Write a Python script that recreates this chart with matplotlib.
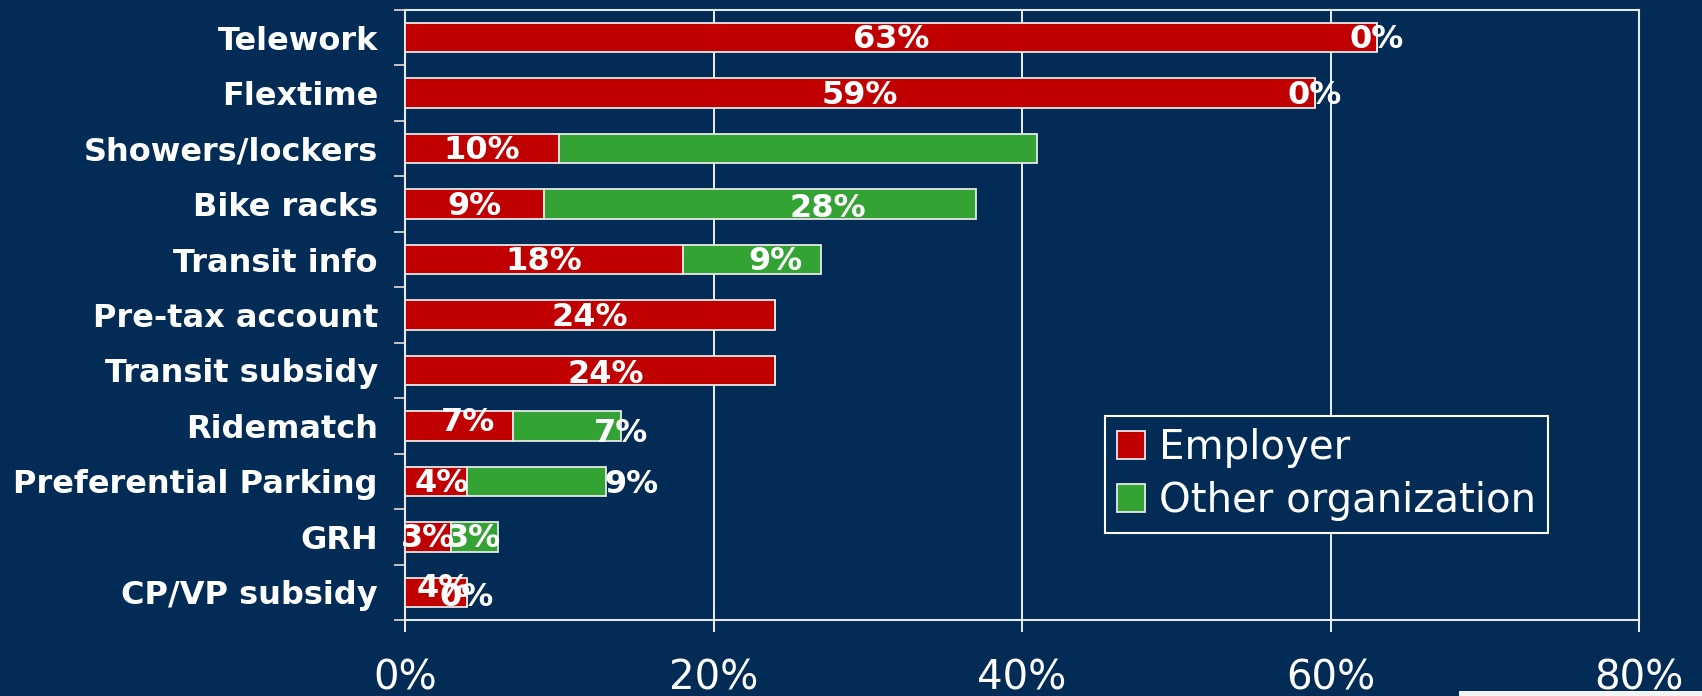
import numpy as np
import matplotlib
matplotlib.use("Agg")
import matplotlib.pyplot as plt
from matplotlib.patches import Rectangle

# Programy wspierane przez pracodawce / inna organizacje (w %)
kategorie = ['Telework', 'Flextime', 'Showers/lockers', 'Bike racks', 'Transit info',
             'Pre-tax account', 'Transit subsidy', 'Ridematch', 'Preferential Parking',
             'GRH', 'CP/VP subsidy']
employer = [63, 59, 10, 9, 18, 24, 24, 7, 4, 3, 4]
other = [0, 0, 31, 28, 9, 0, 0, 7, 9, 3, 0]
# ktore etykiety drugiej serii sa wyswietlane
other_labeled = [True, True, False, True, True, False, False, True, True, True, True]
xticks = [0, 20, 40, 60, 80]

tlo = '#022c56'
czerwony = '#c00000'
zielony = '#33a333'
bialy = 'white'

# przesuniecia etykiet (dx w % osi, dy w px w dol)
przesuniecia = {
    (3, 1): (4.4, 4), (4, 1): (1.5, 2), (6, 0): (1.0, 4),
    (7, 0): (0.6, -3), (7, 1): (3.5, 8), (8, 0): (0.4, 2), (8, 1): (6.2, 3),
    (10, 0): (0.5, -4), (10, 1): (0.0, 5),
}

W, H = 1702, 696
fig = plt.figure(figsize=(W / 100, H / 100), dpi=100, facecolor=tlo)
ax = fig.add_axes([405 / W, 1 - 620 / H, (1639 - 405) / W, (620 - 10) / H])
ax.set_facecolor(tlo)

y = np.arange(len(kategorie))
b1 = ax.barh(y, employer, height=0.53, color=czerwony, edgecolor='#e8e8e8',
             linewidth=1.3, label='Employer', zorder=3)
b2 = ax.barh(y, other, left=employer, height=0.53, color=zielony, edgecolor='#e8e8e8',
             linewidth=1.3, label='Other organization', zorder=3)

ax.set_xlim(0, 80)
ax.set_ylim(len(kategorie) - 0.5, -0.5)

# etykiety wartosci
for i in range(len(kategorie)):
    segmenty = [(employer[i], 0, True), (other[i], employer[i], other_labeled[i])]
    for s, (val, start, pokaz) in enumerate(segmenty):
        if not pokaz:
            continue
        dx, dy = przesuniecia.get((i, s), (0.0, 2))
        ax.annotate(f'{val}%', xy=(start + val / 2 + dx, i), xytext=(0, -dy),
                    textcoords='offset pixels', ha='center', va='center',
                    color=bialy, fontsize=23, fontweight='bold',
                    family='DejaVu Sans', zorder=5)

# osie
ax.set_xticks(xticks)
ax.set_xticklabels([f'{t}%' for t in xticks], fontsize=29, color=bialy, family='DejaVu Sans')
ax.tick_params(axis='x', direction='out', length=8.6, width=1.3, color=bialy, pad=19)
ax.set_yticks(y)
ax.set_yticklabels(kategorie, fontsize=23, fontweight='bold', color=bialy, family='DejaVu Sans')
ax.tick_params(axis='y', which='major', length=0, pad=19.5)
ax.set_yticks(np.arange(-0.5, len(kategorie)), minor=True)
ax.tick_params(axis='y', which='minor', length=8, width=1.3, color='#d0d0d0', direction='out')

ax.grid(axis='x', color=bialy, linewidth=1.3, zorder=1)
ax.set_axisbelow(True)
for sp in ax.spines.values():
    sp.set_color('#e8e8e8')
    sp.set_linewidth(1.5)

leg = ax.legend(handles=[b1, b2], loc='upper left',
                bbox_to_anchor=(1105 / W, 1 - 416 / H), bbox_transform=fig.transFigure,
                borderaxespad=0, fontsize=29, fancybox=False, framealpha=1,
                facecolor=tlo, edgecolor=bialy, handlelength=0.7, handleheight=0.7,
                handletextpad=0.33, labelspacing=0.32, borderpad=0.3)
leg.get_frame().set_linewidth(1.5)
for t in leg.get_texts():
    t.set_color(bialy)

# bialy pasek w prawym dolnym rogu
fig.patches.append(Rectangle((1459 / W, 0), 1 - 1459 / W, 5 / H, transform=fig.transFigure,
                             facecolor='#f4f4f4', edgecolor='none'))

fig.savefig('out.png', dpi=100, facecolor=tlo)
